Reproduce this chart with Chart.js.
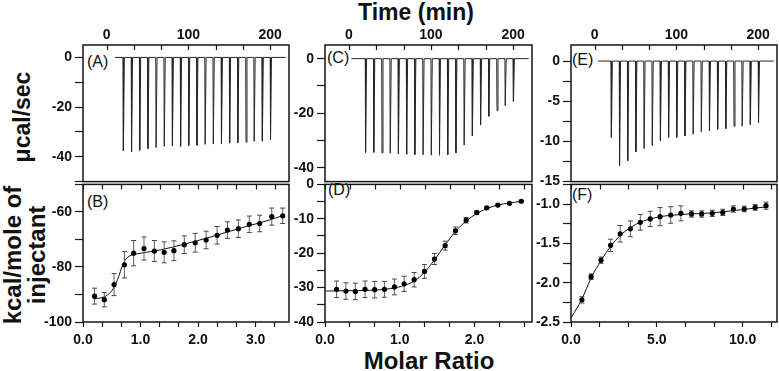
<!DOCTYPE html>
<html>
<head>
<meta charset="utf-8">
<script src="https://cdn.jsdelivr.net/npm/chart.js@4.4.0/dist/chart.umd.min.js"></script>
<style>
  body { margin: 0; width: 779px; height: 371px; background: #fff; overflow: hidden; position: relative;
         font-family: "Liberation Sans", Arial, sans-serif; }
  canvas { position: absolute; }
  .t { position: absolute; white-space: nowrap; color: #111; line-height: 1; transform: translate(-50%, -50%); }
  .b { font-weight: bold; }
  .p { font-size: 16px; transform: translate(0, -50%); }
</style>
</head>
<body>
<div class="t b" style="left:416px;top:12px;font-size:23px">Time (min)</div>
<div class="t b" style="left:429px;top:361px;font-size:24px">Molar Ratio</div>
<div class="t b" style="left:22px;top:117px;font-size:23px;transform:translate(-50%,-50%) rotate(-90deg)">μcal/sec</div>
<div class="t b" style="left:25px;top:255px;font-size:24px;line-height:24px;text-align:center;transform:translate(-50%,-50%) rotate(-90deg)">kcal/mole of<br>injectant</div>
<div class="t p" style="left:87px;top:62px">(A)</div>
<div class="t p" style="left:87px;top:202px">(B)</div>
<div class="t p" style="left:327px;top:58px">(C)</div>
<div class="t p" style="left:328px;top:190px">(D)</div>
<div class="t p" style="left:572px;top:60px">(E)</div>
<div class="t p" style="left:572px;top:195px">(F)</div>

<script>
// injection times (min) and peak heights (µcal/sec) of the raw traces
const injTimes = [20, 30, 40, 50, 60, 70, 80, 90, 100, 110, 120, 130, 140, 150, 160, 170, 180, 190, 200];
const peaksA = [-37.6, -38.0, -37.4, -36.7, -36.3, -35.8, -35.5, -35.8, -35.5, -35.4, -35.0, -34.9, -34.7, -34.5, -34.3, -34.1, -33.8, -33.7, -33.0];
const peaksC = [-34.3, -34.3, -34.5, -34.6, -34.9, -35.0, -35.1, -35.2, -35.3, -35.3, -35.2, -34.5, -31.6, -28.3, -24.3, -21.1, -19.0, -17.2, -15.6];
const peaksE = [-9.5, -13.0, -12.4, -11.3, -10.9, -10.5, -9.9, -9.5, -9.5, -9.3, -9.1, -8.8, -8.7, -8.5, -8.4, -8.1, -8.1, -7.9, -7.7];

// integrated heats (kcal/mole of injectant) vs molar ratio
const xB = [0.20, 0.37, 0.54, 0.72, 0.88, 1.06, 1.24, 1.41, 1.58, 1.76, 1.95, 2.14, 2.33, 2.51, 2.70, 2.89, 3.07, 3.28, 3.47];
const yB = [-90.6, -91.9, -86.4, -79.2, -75.0, -73.3, -74.2, -74.7, -74.1, -71.9, -71.2, -70.2, -68.5, -66.6, -66.1, -64.5, -64.2, -61.7, -61.4];
const eB = [2.9, 2.6, 4.0, 4.8, 4.6, 4.2, 3.8, 3.8, 3.6, 3.2, 3.4, 3.2, 3.2, 3.0, 3.2, 3.0, 3.0, 3.1, 2.8];
const fitXB = [0.20, 0.35, 0.45, 0.55, 0.62, 0.68, 0.74, 0.82, 0.95, 1.3, 1.8, 2.3, 2.8, 3.2, 3.48];
const fitYB = [-91.6, -91.0, -89.8, -87.0, -83.5, -79.8, -77.3, -75.9, -75.2, -74.0, -71.5, -68.6, -65.5, -63.2, -61.3];

const xD = [0.155, 0.28, 0.406, 0.536, 0.665, 0.795, 0.929, 1.059, 1.193, 1.331, 1.465, 1.608, 1.746, 1.889, 2.031, 2.165, 2.313, 2.469, 2.626];
const yD = [-30.5, -31.0, -31.1, -30.5, -30.6, -30.5, -29.8, -28.9, -27.7, -25.3, -21.7, -17.8, -13.5, -10.4, -8.2, -6.8, -6.0, -5.5, -4.9];
const eD = [2.4, 2.4, 2.4, 2.4, 2.4, 2.3, 2.3, 2.2, 2.1, 2.0, 1.6, 1.3, 1.1, 0.8, 0.5, 0.3, 0.3, 0.3, 0.3];
const fitXD = [0, 0.3, 0.6, 0.8, 0.95, 1.1, 1.2, 1.33, 1.47, 1.6, 1.75, 1.89, 2.03, 2.17, 2.31, 2.47, 2.63];
const fitYD = [-31.0, -30.9, -30.8, -30.5, -30.0, -29.1, -28.0, -25.6, -21.8, -17.8, -13.6, -10.6, -8.5, -7.0, -6.0, -5.4, -4.9];

const xF = [0.634, 1.171, 1.748, 2.307, 2.866, 3.460, 4.037, 4.614, 5.190, 5.807, 6.401, 7.018, 7.612, 8.229, 8.841, 9.458, 10.092, 10.727, 11.361];
const yF = [-2.218, -1.924, -1.714, -1.525, -1.378, -1.315, -1.232, -1.189, -1.160, -1.139, -1.118, -1.126, -1.126, -1.118, -1.106, -1.063, -1.063, -1.043, -1.021];
const eF = [0.04, 0.035, 0.04, 0.078, 0.105, 0.1, 0.1, 0.097, 0.115, 0.105, 0.095, 0.04, 0.04, 0.04, 0.04, 0.04, 0.035, 0.035, 0.045];
const fitXF = [0, 0.634, 1.171, 1.748, 2.307, 2.866, 3.46, 4.037, 4.614, 5.19, 6.0, 7.0, 8.0, 9.0, 10.0, 11.4];
const fitYF = [-2.45, -2.21, -1.94, -1.72, -1.54, -1.40, -1.30, -1.23, -1.19, -1.16, -1.14, -1.125, -1.115, -1.095, -1.07, -1.035];

// tick labels
const timeLabels = [0, 100, 200];
const labelsA = [0, -20, -40];
const labelsC = [0, -20, -40];
const labelsE = [0, -5, -10, -15];
const labelsBx = [0, 1, 2, 3];
const labelsBy = [-60, -80, -100];
const labelsDx = [0, 1, 2];
const labelsDy = [0, -10, -20, -30, -40];
const labelsFx = [0, 5, 10];
const labelsFy = [-1.0, -1.5, -2.0, -2.5];

Chart.defaults.font.family = '"Liberation Sans", Arial, sans-serif';
Chart.defaults.color = '#111';

const INK = '#151515';

function tickList(min, max, step) {
  const out = [];
  const i0 = Math.ceil(min / step - 1e-6), i1 = Math.floor(max / step + 1e-6);
  for (let i = i0; i <= i1; i++) out.push(i * step);
  return out;
}

function labelFn(labels, dec) {
  return v => labels.some(l => Math.abs(l - v) < 1e-6) ? v.toFixed(dec) : '';
}

// frame round the plot area plus inward ticks on its top edge
const framePlugin = {
  id: 'frame',
  afterDraw(chart) {
    const { ctx, chartArea: a } = chart;
    const xs = chart.scales.x;
    ctx.save();
    ctx.strokeStyle = INK;
    ctx.lineWidth = 1.5;
    ctx.strokeRect(a.left, a.top, a.right - a.left, a.bottom - a.top);
    ctx.lineWidth = 1.2;
    ctx.beginPath();
    xs.ticks.forEach(t => {
      const px = Math.round(xs.getPixelForValue(t.value)) + 0.5;
      ctx.moveTo(px, a.top);
      ctx.lineTo(px, a.top + 5);
    });
    ctx.stroke();
    ctx.restore();
  }
};

function axis(pos, min, max, step, labels, dec) {
  const vertical = pos === 'left';
  return {
    type: 'linear', position: pos, min: min, max: max,
    afterBuildTicks: s => { s.ticks = tickList(min, max, step).map(v => ({ value: v })); },
    afterFit: s => { if (vertical) s.width = 60; else s.height = 32; },
    border: { display: false },
    grid: { drawOnChartArea: false, drawTicks: pos !== 'top', tickLength: vertical ? 8 : 5, tickWidth: 1.2, tickColor: INK },
    ticks: { autoSkip: false, maxRotation: 0, padding: vertical ? 3 : (pos === 'top' ? 1 : 5), color: '#111',
             font: { size: 14, weight: 'bold' }, callback: labelFn(labels, dec) }
  };
}

function place(left, top, w, h) {
  const c = document.createElement('canvas');
  c.width = w; c.height = h;
  c.style.left = left + 'px'; c.style.top = top + 'px';
  c.style.width = w + 'px'; c.style.height = h + 'px';
  document.body.appendChild(c);
  return c;
}

function thermoTrace(start, end, peaks) {
  const pts = [{ x: start, y: 0 }];
  injTimes.forEach((t, i) => {
    pts.push({ x: t, y: 0 }, { x: t + 0.4, y: peaks[i] }, { x: t + 1.6, y: 0 });
  });
  pts.push({ x: end, y: 0 });
  return pts;
}

function topPanel(left, width, start, peaks, yMin, yMax, yStep, yLabels) {
  const c = place(left - 60, 45 - 32, width + 80, 138 + 42);
  new Chart(c, {
    type: 'scatter',
    data: { datasets: [{
      data: thermoTrace(start, 219, peaks), showLine: true, borderColor: '#262626', borderWidth: 1,
      pointRadius: 0, tension: 0
    }] },
    options: {
      responsive: false, animation: false, events: [],
      layout: { padding: { left: 0, top: 0, right: 20, bottom: 10 } },
      plugins: { legend: { display: false }, tooltip: { enabled: false } },
      scales: {
        x: axis('top', -29, 223, 100 / 3, timeLabels, 0),
        y: axis('left', yMin, yMax, yStep, yLabels, 0)
      }
    },
    plugins: [framePlugin]
  });
}

function bottomPanel(left, width, xs, ys, es, fx, fy, xr, xStep, xLabels, yr, yStep, yLabels, yDec) {
  const c = place(left - 60, 183 - 10, width + 80, 139 + 42);
  const bars = [];
  xs.forEach((x, i) => {
    bars.push({ x: x, y: ys[i] - es[i] }, { x: x, y: ys[i] + es[i] }, { x: x, y: null });
  });
  new Chart(c, {
    type: 'scatter',
    data: { datasets: [
      { data: xs.map((x, i) => ({ x: x, y: ys[i] })), pointRadius: 2.6, pointBackgroundColor: '#000',
        pointBorderWidth: 0, showLine: false },
      { data: bars, showLine: true, spanGaps: false, borderColor: '#606060', borderWidth: 1,
        pointStyle: 'line', pointRadius: 2.5, pointBorderColor: '#444', pointBorderWidth: 1 },
      { data: fx.map((x, i) => ({ x: x, y: fy[i] })), showLine: true, borderColor: '#111', borderWidth: 1,
        pointRadius: 0, cubicInterpolationMode: 'monotone' }
    ] },
    options: {
      responsive: false, animation: false, events: [],
      layout: { padding: { left: 0, top: 10, right: 20, bottom: 0 } },
      plugins: { legend: { display: false }, tooltip: { enabled: false } },
      scales: {
        x: axis('bottom', xr[0], xr[1], xStep, xLabels, 1),
        y: axis('left', yr[0], yr[1], yStep, yLabels, yDec)
      }
    },
    plugins: [framePlugin]
  });
}

topPanel(83, 206, 10, peaksA, -50, 5, 10, labelsA);
topPanel(325, 207, 3, peaksC, -45, 5, 10, labelsC);
topPanel(571, 206, 4, peaksE, -15, 2, 2.5, labelsE);

bottomPanel(83, 206, xB, yB, eB, fitXB, fitYB, [0, 3.58], 1 / 3, labelsBx, [-100, -50], 10, labelsBy, 0);
bottomPanel(325, 207, xD, yD, eD, fitXD, fitYD, [0, 2.77], 1 / 3, labelsDx, [-40, 0], 5, labelsDy, 0);
bottomPanel(571, 206, xF, yF, eF, fitXF, fitYF, [0, 12], 5 / 3, labelsFx, [-2.5, -0.75], 0.25, labelsFy, 1);
</script>
</body>
</html>
